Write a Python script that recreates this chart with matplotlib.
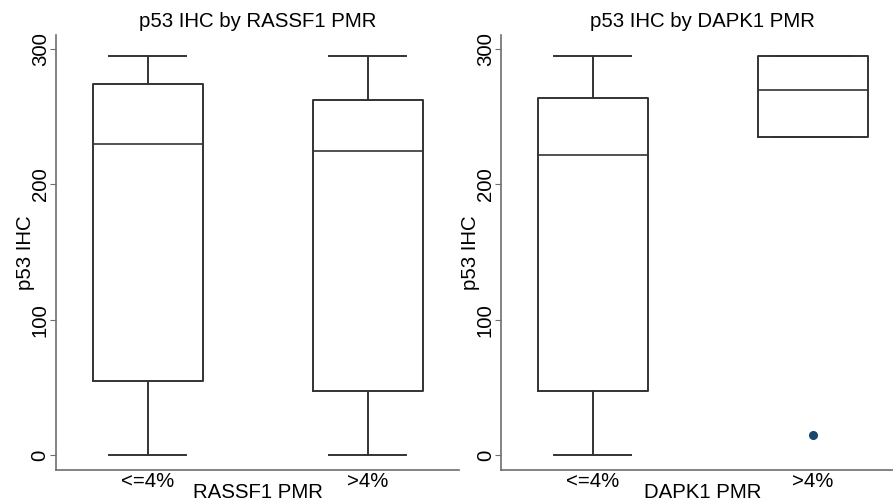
import matplotlib
matplotlib.use("Agg")
import matplotlib.pyplot as plt

plt.rcParams['font.family'] = ['Liberation Sans', 'DejaVu Sans']

# Data (p53 IHC score)
groups = ['<=4%', '>4%']
titles = ['p53 IHC by RASSF1 PMR', 'p53 IHC by DAPK1 PMR']
xlabels = ['RASSF1 PMR', 'DAPK1 PMR']

rassf1_whislo = [0, 0]
rassf1_q1 = [55, 47.5]
rassf1_med = [230, 225]
rassf1_q3 = [274, 262]
rassf1_whishi = [295, 295]
rassf1_fliers = [[], []]

dapk1_whislo = [0, 235]
dapk1_q1 = [47.5, 235]
dapk1_med = [222, 269.5]
dapk1_q3 = [264, 295]
dapk1_whishi = [295, 295]
dapk1_fliers = [[], [15]]

panels = [
    (rassf1_whislo, rassf1_q1, rassf1_med, rassf1_q3, rassf1_whishi, rassf1_fliers),
    (dapk1_whislo, dapk1_q1, dapk1_med, dapk1_q3, dapk1_whishi, dapk1_fliers),
]

fig = plt.figure(figsize=(8.93, 5.04), dpi=100)
W, H = 893, 504
axes_px = [(56, 35, 403, 435), (501, 35, 403, 435)]

line_col = '#333333'
axis_col = '#6e6e6e'
fs = 14.7

for i, (lo, q1, med, q3, hi, fl) in enumerate(panels):
    x0, y0, w, h = axes_px[i]
    ax = fig.add_axes([x0 / W, 1 - (y0 + h) / H, w / W, h / H])
    stats = []
    for j in range(len(groups)):
        stats.append(dict(whislo=lo[j], q1=q1[j], med=med[j], q3=q3[j],
                          whishi=hi[j], fliers=fl[j], label=groups[j]))
    ax.bxp(stats, positions=[1, 2], widths=0.5, showfliers=True,
           boxprops=dict(color=line_col, linewidth=1.4),
           medianprops=dict(color=line_col, linewidth=1.2),
           whiskerprops=dict(color=line_col, linewidth=1.4),
           capprops=dict(color=line_col, linewidth=1.4),
           capwidths=0.35,
           flierprops=dict(marker='o', markersize=5.5, markerfacecolor='#1a476f',
                           markeredgecolor='#1a476f'))
    ax.set_xlim(0.582, 2.414)
    ax.set_ylim(-11.1, 310.4)
    ax.set_yticks([0, 100, 200, 300])
    ax.set_yticklabels(['0', '100', '200', '300'], rotation=90, va='center')
    ax.tick_params(axis='y', length=4, color=axis_col, labelsize=fs, pad=0.5)
    ax.tick_params(axis='x', length=0, labelsize=fs, pad=1.5)
    for s in ['top', 'right']:
        ax.spines[s].set_visible(False)
    for s in ['left', 'bottom']:
        ax.spines[s].set_color(axis_col)
        ax.spines[s].set_linewidth(1.2)
    ax.set_title(titles[i], fontsize=fs, pad=6)
    ax.set_xlabel(xlabels[i], fontsize=fs, labelpad=-5.5)
    ax.set_ylabel('p53 IHC', fontsize=fs, labelpad=-3)

fig.savefig('out.png', dpi=100)
